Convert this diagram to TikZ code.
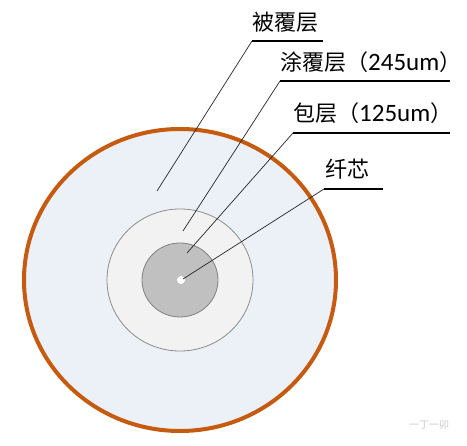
\documentclass[tikz,border=0pt]{standalone}
\usepackage{fontspec}
\newfontfamily\cjk{Noto Sans CJK SC}
\newfontfamily\lat{Carlito}
\usetikzlibrary{positioning}
\definecolor{sheath}{RGB}{197,90,17}
\definecolor{jacketfill}{RGB}{236,240,247}
\definecolor{coatfill}{RGB}{242,242,242}
\definecolor{cladfill}{RGB}{192,192,192}
\tikzset{
  uline/.style={line width=2pt,black},
  leader/.style={line width=0.7pt,black!85},
}
\newcommand{\umtext}[1]{{\lat\fontsize{25}{28}\selectfont #1}}

\begin{document}
\begin{tikzpicture}[x=1pt,y=-1pt]
\useasboundingbox[fill=white] (0,0) rectangle (467,446);
\coordinate (centre) at (180,280);

% cross section
\filldraw[fill=jacketfill,draw=sheath,line width=4pt] (centre) ellipse [x radius=156,y radius=151];
\filldraw[fill=coatfill,draw=black!45,line width=0.8pt] (centre) ellipse [x radius=73,y radius=71];
\filldraw[fill=cladfill,draw=black!50,line width=0.8pt] (centre) ellipse [x radius=38,y radius=37];
\fill[white] (181,280) circle [radius=4];

\begin{scope}[every node/.style={anchor=base west,inner sep=0pt,font=\cjk\fontsize{22}{26}\selectfont}]
	\node (jacket) at (252,31) {被覆层};
	\node (coating) at (280,71) {涂覆层（\umtext{245um}）};
	\node (cladding) at (293,122) {包层（\umtext{125um}）};
	\node (core) at (325,178) {纤芯};
\end{scope}

\coordinate (jacket1) at (252,41);   \coordinate (jacket2) at (323,41);
\coordinate (coating1) at (280,81);  \coordinate (coating2) at (450,81);
\coordinate (cladding1) at (293,133); \coordinate (cladding2) at (450,133);
\coordinate (core1) at (324,189);    \coordinate (core2) at (383,189);

\coordinate (jacketpt) at (157,191);
\coordinate (coatingpt) at (183,231);
\coordinate (claddingpt) at (187,253);
\coordinate (corept) at (183,279);

\begin{scope}
	\draw[uline] (jacket1) -- (jacket2);
	\draw[uline] (coating1) -- (coating2);
	\draw[uline] (cladding1) -- (cladding2);
	\draw[uline] (core1) -- (core2);
	\draw[leader] (jacket1) -- (jacketpt);
	\draw[leader] (coating1) -- (coatingpt);
	\draw[leader] (cladding1) -- (claddingpt);
	\draw[leader] (core1) -- (corept);
\end{scope}

\node[anchor=west,inner sep=0pt,text=black!20,font=\cjk\fontsize{10}{12}\selectfont] (mark) at (409,425) {一丁一卯};
\end{tikzpicture}
\end{document}
